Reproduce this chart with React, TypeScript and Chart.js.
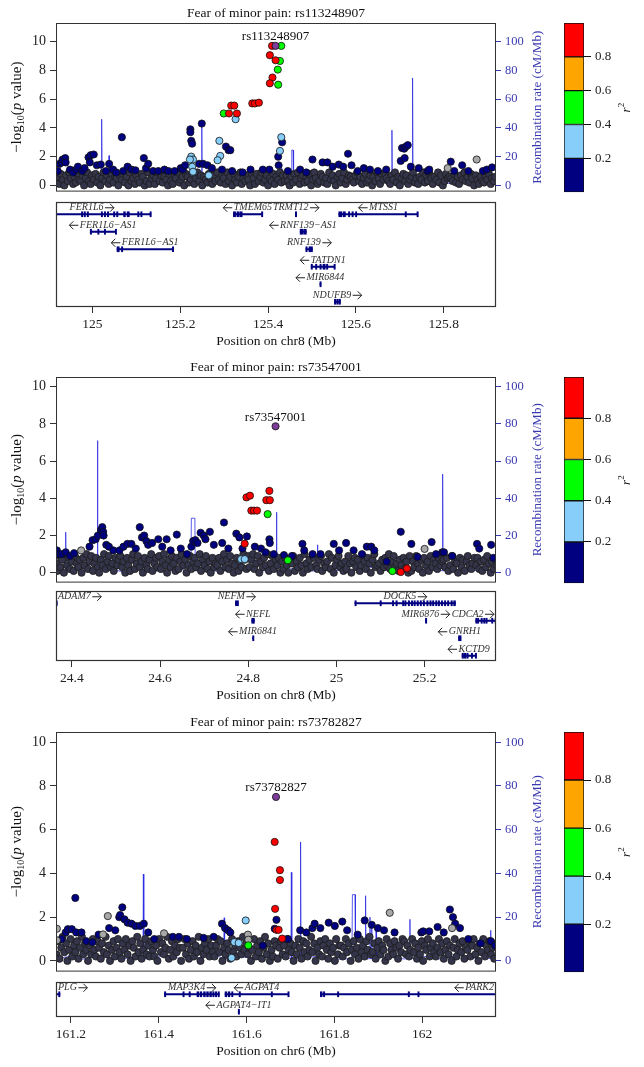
import { useEffect, useRef } from 'react';
import Chart from 'chart.js/auto';

const SERIF = '"Liberation Serif", "Times New Roman", serif';
const NAVY = '#000080';
const SKY = '#87cefa';
const GREEN = '#00ff00';
const ORANGE = '#ffa500';
const RED = '#ff0000';
const PURPLE = '#7d3c98';
const GREY = '#a8a8a8';
const BAND = '#34344a';
const REC = 'rgba(40,40,225,0.75)';
const BLUE_TXT = '#3a3ab0';

// shared axis ticks
const logpTicks = [0, 2, 4, 6, 8, 10];
const recTicks = [0, 20, 40, 60, 80, 100];
const r2Ticks = [0.2, 0.4, 0.6, 0.8];
const r2Breaks = [0, 0.2, 0.4, 0.6, 0.8, 1];
const r2Colors = [NAVY, SKY, GREEN, ORANGE, RED];

type Gene = { name: string; start: number; end: number; strand: number; row: number; exons: number[][] };

// ---------- panel 1: rs113248907, chr8 ----------
const xTicks1 = [125, 125.2, 125.4, 125.6, 125.8];
const lead1 = { snp: 'rs113248907', pos: 125.417, logp: 9.7 };
const ldPos1 = [125.409, 125.43, 125.404, 125.417, 125.427, 125.422, 125.41, 125.404, 125.423, 125.364, 125.37, 125.379, 125.316, 125.323, 125.299, 125.311, 125.329, 125.326, 125.289, 125.43, 125.427, 125.291, 125.285, 125.265, 125.225, 125.229, 125.227, 125.229, 125.222];
const ldP1 = [9.7, 9.7, 9.05, 8.7, 8.65, 8.05, 7.5, 7.1, 7.0, 5.7, 5.7, 5.75, 5.55, 5.55, 5.0, 5.0, 5.0, 4.6, 3.1, 3.35, 2.4, 2.05, 1.75, 0.7, 2.0, 1.8, 1.3, 0.95, 1.8];
const ldR21 = [0.9, 0.5, 0.9, 0.9, 0.5, 0.5, 0.9, 0.9, 0.5, 0.9, 0.9, 0.9, 0.9, 0.9, 0.5, 0.9, 0.9, 0.3, 0.3, 0.3, 0.3, 0.3, 0.3, 0.3, 0.3, 0.3, 0.3, 0.3, 0.3];
const greyKb1 = [958, 892];
const greyP1 = [1.8, 1.2];
const hiKb1 = [4, 8, 13, 15, 21, 22, 32, 39, 46, 50, 60, 65, 74, 77, 79, 86, 93, 102, 114, 121, 130, 137, 150, 153, 163, 172, 181, 200, 205, 210, 221, 233, 247, 256, 270, 284, 289, 294, 306, 306, 308, 310, 326, 332, 335, 345, 355, 378, 387, 393, 397, 401, 425, 443, 471, 486, 506, 507, 515, 528, 556, 570, 584, 607, 618, 630, 644, 654, 665, 673, 687, 701, 715, 733, 752, 785, 788, 793, 794, 797, 801, 808, 826, 846, 850, 899, 907, 925, 939, 972, 981, 993];
const hiP1 = [1.0, 1.5, 1.6, 1.8, 1.9, 1.6, 1.1, 0.9, 1.1, 1.3, 1.0, 1.2, 1.95, 1.6, 2.1, 2.15, 1.4, 1.45, 1.0, 1.5, 1.1, 0.9, 3.35, 1.0, 1.3, 1.1, 1.05, 1.9, 1.2, 1.5, 1.0, 1.0, 1.1, 1.0, 1.0, 1.2, 1.1, 1.4, 3.9, 3.7, 3.1, 2.9, 1.5, 4.3, 1.5, 1.4, 1.2, 1.1, 2.7, 2.45, 2.45, 1.0, 0.9, 1.1, 1.1, 1.1, 2.0, 1.4, 3.0, 1.0, 1.1, 0.9, 1.8, 1.6, 1.6, 1.3, 1.45, 1.3, 2.2, 1.4, 1.0, 1.2, 1.1, 1.0, 1.1, 1.7, 2.6, 2.55, 1.9, 2.7, 2.8, 1.3, 1.2, 1.0, 1.1, 1.65, 1.0, 1.4, 1.0, 1.0, 1.1, 1.25];
const bandKb1 = [
  1, 4, 8, 11, 16, 19, 23, 27, 30, 34, 39, 42, 45, 50, 53, 57, 60, 64, 68, 71,
  75, 79, 82, 86, 90, 94, 97, 101, 105, 108, 112, 116, 120, 123, 127, 131, 135, 138, 142, 146,
  150, 153, 157, 161, 165, 168, 172, 176, 180, 183, 187, 191, 195, 198, 202, 206, 210, 213, 217, 221,
  225, 228, 232, 236, 240, 243, 247, 251, 255, 258, 262, 266, 270, 273, 277, 281, 285, 288, 292, 296,
  300, 303, 307, 311, 315, 318, 322, 326, 330, 333, 337, 341, 345, 348, 352, 356, 360, 363, 367, 371,
  375, 378, 382, 386, 390, 393, 397, 401, 405, 408, 412, 416, 420, 423, 427, 431, 435, 438, 442, 446,
  450, 453, 457, 461, 465, 468, 472, 476, 480, 483, 487, 491, 495, 498, 502, 506, 510, 513, 517, 521,
  525, 528, 532, 536, 540, 543, 547, 551, 555, 558, 562, 566, 570, 573, 577, 581, 585, 588, 592, 596,
  600, 603, 607, 611, 615, 618, 622, 626, 630, 633, 637, 641, 645, 648, 652, 656, 660, 663, 667, 671,
  675, 678, 682, 686, 690, 693, 697, 701, 705, 708, 712, 716, 720, 723, 727, 731, 735, 738, 742, 746,
  750, 753, 757, 761, 765, 768, 772, 776, 780, 783, 787, 791, 795, 798, 802, 806, 810, 813, 817, 821,
  825, 828, 832, 836, 840, 843, 847, 851, 855, 858, 862, 866, 870, 873, 877, 881, 885, 888, 892, 896,
  900, 903, 907, 911, 915, 918, 922, 926, 930, 933, 937, 941, 945, 948, 952, 956, 960, 963, 967, 971,
  975, 978, 982, 986, 990, 993, 997, 1000,
];
const bandP1 = [
  .2, .6, .1, .8, .4, 0, .7, .3, .9, .5, .1, .6, .2, .8, .4, .3, .7, 0, .5, .9,
  .3, .1, .7, .4, .8, .2, .6, 0, .5, .9, .3, .7, .1, .4, .8, .2, .6, .5, 0, .7,
  .4, .8, .2, .6, 0, .9, .3, .5, .1, .7, .4, .2, .8, .6, 0, .3, .9, .1, .5, .7,
  .1, .5, .9, .3, .7, .2, .6, .4, 0, .8, .3, .1, .7, .5, .9, .2, .4, .6, 0, .8,
  .6, .2, .4, .8, .1, .5, .9, .3, .7, 0, .6, .4, .2, .8, .5, .1, .7, .3, .9, .4,
  .2, .7, .5, .1, .9, .3, .6, 0, .8, .4, .2, .6, .9, .1, .5, .3, .7, .4, 0, .8,
  .5, .1, .8, .3, .6, .9, .2, .4, .7, 0, .5, .3, .8, .1, .6, .4, .9, .2, .7, .3,
  .7, .3, 0, .6, .2, .8, .4, .9, .1, .5, .7, .2, .6, .3, .8, 0, .4, .9, .5, .1,
  .3, .8, .6, .2, .5, .1, .9, .4, .7, .3, 0, .6, .8, .2, .5, .9, .1, .4, .7, .6,
  .4, .2, .7, .9, .3, .6, .1, .5, .8, .2, .4, .7, 0, .6, .3, .9, .5, .1, .8, .4,
  .8, .5, .3, .1, .7, .4, .9, .2, .6, 0, .5, .8, .3, .7, .1, .4, .6, .9, .2, .5,
  .1, .6, .4, .9, .2, .7, .3, .8, .5, .1, .6, .4, .9, .2, .7, 0, .3, .8, .5, .6,
  .5, .3, .8, .2, .6, .1, .7, .4, .9, .3, .6, .2, .8, .5, 0, .7, .4, .1, .6, .3,
  .2, .7, .4, .8, .1, .5, .3, .6,
];
const recKb1 = [0, 3, 4.5, 6, 25, 45, 70, 95, 103, 104, 105, 118, 120.5, 121, 121.5, 124, 150, 180, 210, 240, 270, 300, 325, 331, 332, 333, 350, 380, 410, 440, 470, 500, 513, 514, 515, 536, 537, 540, 541, 560, 590, 620, 650, 680, 710, 740, 764, 765, 766, 790, 811, 812, 813, 840, 870, 900, 930, 960, 990, 1002];
const recRate1 = [1.5, 2, 10, 1, 3, 0.5, 2.5, 1, 1.5, 46, 1.5, 2, 1, 20.7, 1, 2, 0.8, 3, 1.2, 0.6, 2.2, 1, 3.5, 1, 43, 1.2, 0.5, 2, 1, 3, 0.8, 1.5, 1, 12, 1, 1, 24.6, 24.6, 1, 2, 0.7, 2.5, 1, 1.8, 0.6, 2.4, 1, 38.4, 1, 1.5, 1, 74.7, 1, 2.2, 0.8, 1.6, 3, 1, 2, 1];
const genes1: Gene[] = [
  { name: 'FER1L6', start: 124.864, end: 125.133, strand: 1, row: 0, exons: [[124.975, 124.977], [124.981, 124.984], [124.988, 124.991], [125.02, 125.023], [125.027, 125.03], [125.034, 125.036], [125.048, 125.05], [125.055, 125.058], [125.071, 125.075], [125.079, 125.084], [125.103, 125.105], [125.11, 125.113], [125.131, 125.133]] },
  { name: 'TMEM65', start: 125.321, end: 125.386, strand: -1, row: 0, exons: [[125.321, 125.326], [125.329, 125.334], [125.336, 125.341], [125.385, 125.386]] },
  { name: 'TRMT12', start: 125.462, end: 125.465, strand: 1, row: 0, exons: [[125.462, 125.465]] },
  { name: 'MTSS1', start: 125.561, end: 125.741, strand: -1, row: 0, exons: [[125.561, 125.568], [125.571, 125.576], [125.583, 125.586], [125.591, 125.594], [125.599, 125.601], [125.712, 125.714], [125.739, 125.741]] },
  { name: 'FER1L6−AS1', start: 124.995, end: 125.053, strand: -1, row: 1, exons: [[124.995, 124.996], [125.012, 125.013], [125.027, 125.029], [125.052, 125.053]] },
  { name: 'RNF139−AS1', start: 125.473, end: 125.487, strand: -1, row: 1, exons: [[125.473, 125.479], [125.481, 125.487]] },
  { name: 'FER1L6−AS1', start: 125.056, end: 125.183, strand: -1, row: 2, exons: [[125.056, 125.061], [125.066, 125.069], [125.182, 125.183]] },
  { name: 'RNF139', start: 125.486, end: 125.501, strand: 1, row: 2, exons: [[125.486, 125.489], [125.493, 125.501]] },
  { name: 'TATDN1', start: 125.498, end: 125.552, strand: -1, row: 3, exons: [[125.498, 125.501], [125.508, 125.511], [125.518, 125.521], [125.525, 125.53], [125.533, 125.536], [125.55, 125.552]] },
  { name: 'MIR6844', start: 125.518, end: 125.519, strand: -1, row: 4, exons: [[125.518, 125.519]] },
  { name: 'NDUFB9', start: 125.551, end: 125.564, strand: 1, row: 5, exons: [[125.551, 125.555], [125.557, 125.56], [125.562, 125.564]] },
];

// ---------- panel 2: rs73547001, chr8 ----------
const xTicks2 = [24.4, 24.6, 24.8, 25, 25.2];
const lead2 = { snp: 'rs73547001', pos: 24.862, logp: 7.87 };
const ldPos2 = [24.796, 24.804, 24.848, 24.841, 24.849, 24.807, 24.813, 24.82, 24.844, 24.792, 24.784, 24.792, 24.89, 25.127, 25.146, 25.16];
const ldP2 = [4.05, 4.14, 4.4, 3.9, 3.9, 3.34, 3.34, 3.34, 3.15, 1.56, 0.73, 0.73, 0.67, 0.09, 0.04, 0.23];
const ldR22 = [0.9, 0.9, 0.9, 0.9, 0.9, 0.9, 0.9, 0.9, 0.5, 0.9, 0.3, 0.3, 0.5, 0.5, 0.9, 0.9];
const greyKb2 = [57, 836];
const greyP2 = [1.2, 1.28];
const hiKb2 = [2, 5, 13, 22, 32, 41, 76, 83, 90, 95, 102, 105, 107, 108, 114, 120, 130, 144, 153, 162, 171, 181, 190, 195, 200, 205, 209, 218, 232, 241, 251, 260, 274, 283, 297, 307, 311, 316, 321, 328, 335, 339, 349, 358, 377, 381, 391, 409, 416, 423, 433, 451, 465, 475, 484, 485, 494, 517, 535, 559, 563, 582, 600, 630, 642, 658, 675, 694, 705, 715, 722, 750, 782, 806, 820, 852, 862, 876, 880, 899, 955, 960, 987, 992];
const hiP2 = [1.2, 1.0, 1.0, 1.1, 0.9, 1.05, 1.4, 1.75, 1.8, 2.0, 2.3, 2.45, 2.2, 2.0, 1.5, 1.4, 1.2, 1.2, 1.4, 1.55, 1.55, 1.3, 2.45, 1.9, 2.0, 1.7, 1.5, 1.6, 1.8, 1.4, 1.8, 1.2, 2.05, 1.3, 1.0, 1.4, 1.7, 1.75, 1.6, 2.15, 2.0, 1.8, 2.2, 1.5, 1.6, 2.7, 1.3, 2.1, 1.9, 1.3, 1.95, 1.4, 1.3, 1.1, 1.8, 1.6, 1.0, 0.95, 0.9, 1.55, 1.2, 1.0, 1.0, 1.55, 1.2, 1.6, 1.2, 1.0, 1.4, 1.4, 1.2, 0.6, 2.2, 1.55, 0.85, 1.65, 1.0, 1.1, 1.1, 0.9, 1.55, 1.3, 1.5, 0.8];
const bandKb2 = [
  0, 3, 7, 10, 14, 18, 21, 25, 29, 32, 36, 40, 43, 47, 51, 54, 58, 62, 65, 69,
  73, 76, 80, 84, 87, 91, 95, 98, 102, 106, 109, 113, 117, 120, 124, 128, 131, 135, 139, 142,
  146, 150, 153, 157, 161, 164, 168, 172, 175, 179, 183, 186, 190, 194, 197, 201, 205, 208, 212, 216,
  219, 223, 227, 230, 234, 238, 241, 245, 249, 252, 256, 260, 263, 267, 271, 274, 278, 282, 285, 289,
  293, 296, 300, 304, 307, 311, 315, 318, 322, 326, 329, 333, 337, 340, 344, 348, 351, 355, 359, 362,
  366, 370, 373, 377, 381, 384, 388, 392, 395, 399, 403, 406, 410, 414, 417, 421, 425, 428, 432, 436,
  439, 443, 447, 450, 454, 458, 461, 465, 469, 472, 476, 480, 483, 487, 491, 494, 498, 502, 505, 509,
  513, 516, 520, 524, 527, 531, 535, 538, 542, 546, 549, 553, 557, 560, 564, 568, 571, 575, 579, 582,
  586, 590, 593, 597, 601, 604, 608, 612, 615, 619, 623, 626, 630, 634, 637, 641, 645, 648, 652, 656,
  659, 663, 667, 670, 674, 678, 681, 685, 689, 692, 696, 700, 703, 707, 711, 714, 718, 722, 725, 729,
  733, 736, 740, 744, 747, 751, 755, 758, 762, 766, 769, 773, 777, 780, 784, 788, 791, 795, 799, 802,
  806, 810, 813, 817, 821, 824, 828, 832, 835, 839, 843, 846, 850, 854, 857, 861, 865, 868, 872, 876,
  879, 883, 887, 890, 894, 898, 901, 905, 909, 912, 916, 920, 923, 927, 931, 934, 938, 942, 945, 949,
  953, 956, 960, 964, 967, 971, 975, 978, 982, 986, 989, 993, 997, 1000,
];
const bandP2 = [
  .5, .1, .9, .3, .7, 0, 1, .4, .8, .2, .6, .1, .9, .5, .3, .7, 0, .8, .4, 1,
  .2, .6, .9, .1, .5, .8, .3, 0, .7, .4, 1, .2, .6, .9, .3, .5, .1, .8, .4, .7,
  .9, .3, .6, 0, .8, .4, .1, .7, 1, .2, .5, .9, .3, .6, 0, .8, .4, .2, .7, 1,
  .1, .5, .8, .3, .9, .2, .6, 1, .4, 0, .7, .3, .9, .5, .1, .8, .2, .6, 1, .4,
  .7, 0, .4, .9, .2, .6, .8, .3, .5, 1, .1, .7, .4, .9, .2, .6, 0, .8, .3, .5,
  .4, .8, .1, .6, 1, .3, .7, .2, .9, .5, 0, .4, .8, .1, .6, .3, 1, .7, .2, .9,
  .3, .7, 1, .2, .5, .9, 0, .6, .3, .8, .4, 1, .1, .5, .9, .2, .7, .4, .8, 0,
  .6, .2, .8, .4, 0, .7, .5, .9, .1, .6, .3, .8, .4, 0, 1, .5, .2, .7, .3, .9,
  .8, .4, .2, .7, .9, .1, .5, .3, .6, 1, .2, .8, 0, .4, .7, .9, .3, .5, .1, .6,
  .2, .9, .5, 0, .6, .8, .3, .7, .1, .4, .9, .6, .2, .8, .5, 0, .7, 1, .3, .4,
  .5, .1, .7, .3, .8, .4, 1, .2, .6, .9, .3, .5, .1, .7, .4, .8, .2, .6, 0, .9,
  .1, .6, .3, .9, .5, .2, .7, 0, .8, .4, .6, .1, .9, .3, .7, .5, .2, .8, .4, .6,
  .7, .3, .8, .1, .4, .9, .2, .6, .5, 0, .8, .3, .7, .1, .6, .9, .4, .2, .5, .8,
  .4, .8, .2, .6, .1, .7, .3, .9, .5, 0, .6, .2, .7, .4,
];
const recKb2 = [0, 10, 21, 22, 23, 50, 80, 93, 94, 95, 120, 150, 180, 210, 240, 270, 300, 306, 307, 315, 316, 340, 370, 400, 430, 460, 490, 499, 500, 501, 530, 560, 592, 593, 594, 620, 650, 680, 710, 740, 770, 800, 830, 860, 876, 877, 878, 900, 930, 960, 998];
const recRate2 = [1, 2.5, 1, 21.8, 1, 3, 0.8, 1, 71, 1.5, 2, 0.6, 3, 1.2, 0.8, 2.4, 1, 1, 29.3, 29.3, 1, 2, 0.5, 1.8, 3, 0.7, 1.5, 1, 32.5, 1, 2.2, 0.8, 1, 15, 1, 2.5, 0.6, 1.8, 3.2, 1, 2, 0.7, 1.6, 2.8, 1, 53, 1, 2, 0.8, 1.5, 1];
const genes2: Gene[] = [
  { name: 'ADAM7', start: 24.298, end: 24.366, strand: 1, row: 0, exons: [[24.3635, 24.366]] },
  { name: 'NEFM', start: 24.771, end: 24.776, strand: 1, row: 0, exons: [[24.771, 24.774], [24.775, 24.776]] },
  { name: 'DOCK5', start: 25.042, end: 25.27, strand: 1, row: 0, exons: [[25.042, 25.043], [25.099, 25.1], [25.127, 25.129], [25.135, 25.137], [25.15, 25.152], [25.155, 25.158], [25.163, 25.165], [25.17, 25.172], [25.176, 25.178], [25.183, 25.185], [25.19, 25.192], [25.197, 25.199], [25.205, 25.207], [25.212, 25.214], [25.218, 25.221], [25.225, 25.228], [25.231, 25.234], [25.238, 25.24], [25.245, 25.248], [25.252, 25.255], [25.26, 25.263], [25.266, 25.27]] },
  { name: 'NEFL', start: 24.808, end: 24.814, strand: -1, row: 1, exons: [[24.808, 24.81], [24.811, 24.813]] },
  { name: 'MIR6876', start: 25.202, end: 25.2025, strand: 1, row: 1, exons: [[25.202, 25.2025]] },
  { name: 'CDCA2', start: 25.316, end: 25.365, strand: 1, row: 1, exons: [[25.316, 25.318], [25.32, 25.322], [25.328, 25.33], [25.334, 25.336], [25.339, 25.342], [25.352, 25.354], [25.36, 25.362]] },
  { name: 'MIR6841', start: 24.81, end: 24.8105, strand: -1, row: 2, exons: [[24.81, 24.8105]] },
  { name: 'GNRH1', start: 25.277, end: 25.282, strand: -1, row: 2, exons: [[25.277, 25.279], [25.28, 25.282]] },
  { name: 'KCTD9', start: 25.285, end: 25.316, strand: -1, row: 3, exons: [[25.285, 25.288], [25.289, 25.294], [25.296, 25.298], [25.306, 25.308], [25.315, 25.316]] },
];

// ---------- panel 3: rs73782827, chr6 ----------
const xTicks3 = [161.2, 161.4, 161.6, 161.8, 162];
const lead3 = { snp: 'rs73782827', pos: 161.667, logp: 7.5 };
const ldPos3 = [161.664, 161.676, 161.676, 161.665, 161.668, 161.673, 161.681, 161.598, 161.572, 161.582, 161.566, 161.604];
const ldP3 = [5.44, 4.15, 3.7, 2.38, 1.42, 1.42, 1.02, 1.85, 0.86, 0.82, 0.14, 0.71];
const ldR23 = [0.9, 0.9, 0.9, 0.9, 0.9, 0.9, 0.9, 0.3, 0.3, 0.3, 0.3, 0.5];
const greyKb3 = [2, 2, 118, 107, 246, 760, 902, 437, 438];
const greyP3 = [1.47, 0.94, 2.05, 1.21, 1.26, 2.2, 1.5, 1.2, 0.97];
const hiKb3 = [13, 22, 27, 36, 44, 46, 58, 69, 83, 97, 121, 135, 144, 146, 151, 156, 163, 172, 181, 191, 200, 210, 224, 266, 280, 298, 336, 359, 378, 385, 392, 397, 471, 498, 502, 528, 556, 570, 584, 589, 602, 621, 635, 652, 663, 687, 703, 719, 733, 747, 771, 832, 836, 850, 869, 883, 897, 904, 909, 920, 939, 967, 990, 1000];
const hiP3 = [1.0, 1.3, 1.45, 1.45, 2.88, 1.3, 1.3, 0.9, 0.85, 1.2, 1.5, 1.4, 2.0, 2.1, 2.45, 1.9, 1.75, 1.7, 1.6, 1.6, 1.7, 1.3, 1.0, 1.1, 1.1, 1.0, 1.05, 1.1, 1.7, 1.5, 1.4, 1.3, 0.7, 1.47, 1.88, 1.0, 1.4, 1.3, 1.5, 1.7, 1.5, 1.75, 1.6, 1.8, 1.4, 1.2, 1.85, 1.65, 1.5, 1.4, 1.3, 1.3, 1.35, 1.35, 1.55, 1.3, 2.35, 2.0, 1.7, 1.5, 1.0, 0.8, 0.9, 0.7];
const bandKb3 = [
  1, 5, 8, 12, 15, 19, 23, 26, 30, 33, 37, 41, 44, 48, 51, 55, 59, 62, 66, 69,
  73, 77, 80, 84, 87, 91, 95, 98, 102, 105, 109, 113, 116, 120, 123, 127, 131, 134, 138, 141,
  145, 149, 152, 156, 159, 163, 167, 170, 174, 177, 181, 185, 188, 192, 195, 199, 203, 206, 210, 213,
  217, 221, 224, 228, 231, 235, 239, 242, 246, 249, 253, 257, 260, 264, 267, 271, 275, 278, 282, 285,
  289, 293, 296, 300, 303, 307, 311, 314, 318, 321, 325, 329, 332, 336, 339, 343, 347, 350, 354, 357,
  361, 365, 368, 372, 375, 379, 383, 386, 390, 393, 397, 401, 404, 408, 411, 415, 419, 422, 426, 429,
  433, 437, 440, 444, 447, 451, 455, 458, 462, 465, 469, 473, 476, 480, 483, 487, 491, 494, 498, 501,
  505, 509, 512, 516, 519, 523, 527, 530, 534, 537, 541, 545, 548, 552, 555, 559, 563, 566, 570, 573,
  577, 581, 584, 588, 591, 595, 599, 602, 606, 609, 613, 617, 620, 624, 627, 631, 635, 638, 642, 645,
  649, 653, 656, 660, 663, 667, 671, 674, 678, 681, 685, 689, 692, 696, 699, 703, 707, 710, 714, 717,
  721, 725, 728, 732, 735, 739, 743, 746, 750, 753, 757, 761, 764, 768, 771, 775, 779, 782, 786, 789,
  793, 797, 800, 804, 807, 811, 815, 818, 822, 825, 829, 833, 836, 840, 843, 847, 851, 854, 858, 861,
  865, 869, 872, 876, 879, 883, 887, 890, 894, 897, 901, 905, 908, 912, 915, 919, 923, 926, 930, 933,
  937, 941, 944, 948, 951, 955, 959, 962, 966, 969, 973, 977, 980, 984, 987, 991, 995, 998, 1001,
];
const bandP3 = [
  .3, .9, .1, .6, 1.1, .4, .8, 0, .5, 1, .2, .7, .4, .9, .1, .6, 1.1, .3, .8, .5,
  0, .7, .3, 1, .5, .2, .9, .6, .1, .8, .4, 1.1, .3, .7, 0, .5, .9, .2, .6, 1,
  .4, .1, .8, .5, 1, .3, .7, 0, .9, .6, .2, 1.1, .4, .8, .1, .5, 1, .3, .7, .2,
  .9, .5, .2, .7, 0, 1, .4, .8, .3, .6, 1.1, .1, .5, .9, .2, .7, .4, 1, .6, 0,
  .6, 1, .3, .8, .1, .5, .9, .2, .7, .4, 1.1, 0, .6, .3, .8, .5, 1, .2, .7, .4,
  .2, .7, 1, .4, .9, 0, .6, .3, .8, .5, .1, 1, .4, .7, .2, .9, .6, .3, 1.1, .5,
  .8, .3, .6, 0, .5, 1, .2, .7, .4, .9, .1, .6, 1.1, .3, .8, 0, .5, .2, .9, .7,
  .1, .6, .9, .3, .7, .2, 1, .5, .8, .4, 0, .7, .3, 1, .6, .1, .9, .4, .8, .2,
  .5, 1.1, .4, .8, 0, .6, .3, .9, .2, .7, 1, .5, .1, .8, .4, .6, 0, 1, .3, .7,
  .7, .2, .6, 1, .4, .8, 0, .5, .9, .3, .6, .1, 1, .4, .7, .2, .9, .5, 1.1, .3,
  .4, .8, .1, .6, .9, .3, .7, .5, 0, 1, .2, .8, .5, .3, .9, .6, .1, .7, .4, 1,
  .9, .3, .7, .2, .5, 1, .4, .8, .1, .6, .3, .9, 0, .7, .5, 1, .2, .6, .8, .4,
  .2, .6, 1, .4, .8, .1, .5, .9, .3, .7, 0, .6, 1, .2, .5, .8, .4, .9, .1, .6,
  .5, .9, .2, .7, 1, .3, .6, 0, .8, .4, 1, .2, .7, .5, .9, .3, .6, .1, .8,
];
const recKb3 = [0, 30, 60, 90, 120, 150, 180, 198, 199, 200, 213, 214, 215, 250, 290, 330, 360, 382, 383, 384, 420, 460, 500, 535, 536, 537, 556, 557, 558, 600, 640, 674, 675, 681, 682, 704, 705, 706, 714, 715, 716, 718, 719, 720, 728, 729, 730, 760, 790, 805, 806, 807, 840, 880, 920, 957, 958, 959, 975, 989, 990, 991, 1002];
const recRate3 = [1, 2, 0.7, 2.5, 1.2, 0.6, 2.2, 1, 39.7, 1, 1, 10, 1, 2.5, 0.8, 1.6, 3, 1, 19.7, 1, 2, 0.6, 2.8, 1, 40.5, 1, 1, 54.4, 1, 2.3, 0.8, 1, 30.3, 30.3, 1, 1, 29.8, 1, 1, 20, 1, 1, 17.7, 1, 1, 15, 1, 2.4, 0.9, 1, 19, 1, 2, 0.7, 3, 1, 10, 1, 1.5, 1, 14, 1, 1];
const genes3: Gene[] = [
  { name: 'PLG', start: 161.123, end: 161.175, strand: 1, row: 0, exons: [[161.172, 161.175]] },
  { name: 'MAP3K4', start: 161.413, end: 161.538, strand: 1, row: 0, exons: [[161.413, 161.414], [161.455, 161.456], [161.469, 161.471], [161.487, 161.491], [161.494, 161.498], [161.502, 161.506], [161.509, 161.513], [161.516, 161.52], [161.523, 161.526], [161.529, 161.531], [161.535, 161.538]] },
  { name: 'AGPAT4', start: 161.551, end: 161.695, strand: -1, row: 0, exons: [[161.551, 161.555], [161.558, 161.562], [161.566, 161.568], [161.583, 161.584], [161.656, 161.657], [161.694, 161.695]] },
  { name: 'PARK2', start: 161.768, end: 163.148, strand: -1, row: 0, exons: [[161.768, 161.772], [161.775, 161.778], [161.807, 161.808], [161.968, 161.97], [161.99, 161.992]] },
  { name: 'AGPAT4−IT1', start: 161.581, end: 161.583, strand: -1, row: 1, exons: [[161.581, 161.583]] },
];

interface Panel {
  title: string; chrom: string;
  lead: { snp: string; pos: number; logp: number };
  xMin: number; xMax: number; yMin: number; yMax: number; xTicks: number[];
  ldPos: number[]; ldP: number[]; ldR2: number[];
  greyKb: number[]; greyP: number[]; hiKb: number[]; hiP: number[];
  bandKb: number[]; bandP: number[]; recKb: number[]; recRate: number[];
  genes: Gene[]; geneRows: number;
  top: number; height: number; padTop: number; padBottom: number; geneTop: number; geneBox: number;
}

const panels: Panel[] = [
  { title: 'Fear of minor pain: rs113248907', chrom: 'chr8', lead: lead1, xMin: 124.917, xMax: 125.919, yMin: -0.43, yMax: 11.29, xTicks: xTicks1,
    ldPos: ldPos1, ldP: ldP1, ldR2: ldR21, greyKb: greyKb1, greyP: greyP1, hiKb: hiKb1, hiP: hiP1, bandKb: bandKb1, bandP: bandP1,
    recKb: recKb1, recRate: recRate1, genes: genes1, geneRows: 6, top: 0, height: 204, padTop: 23, padBottom: 11, geneTop: 196, geneBox: 105 },
  { title: 'Fear of minor pain: rs73547001', chrom: 'chr8', lead: lead2, xMin: 24.364, xMax: 25.362, yMin: -0.53, yMax: 10.52, xTicks: xTicks2,
    ldPos: ldPos2, ldP: ldP2, ldR2: ldR22, greyKb: greyKb2, greyP: greyP2, hiKb: hiKb2, hiP: hiP2, bandKb: bandKb2, bandP: bandP2,
    recKb: recKb2, recRate: recRate2, genes: genes2, geneRows: 4, top: 356, height: 239, padTop: 21, padBottom: 11, geneTop: 585, geneBox: 70 },
  { title: 'Fear of minor pain: rs73782827', chrom: 'chr6', lead: lead3, xMin: 161.166, xMax: 162.168, yMin: -0.49, yMax: 10.47, xTicks: xTicks3,
    ldPos: ldPos3, ldP: ldP3, ldR2: ldR23, greyKb: greyKb3, greyP: greyP3, hiKb: hiKb3, hiP: hiP3, bandKb: bandKb3, bandP: bandP3,
    recKb: recKb3, recRate: recRate3, genes: genes3, geneRows: 2, top: 710, height: 274, padTop: 22, padBottom: 11, geneTop: 976, geneBox: 35 },
];

function ldColor(r2: number) {
  if (r2 >= 0.8) return RED;
  if (r2 >= 0.6) return ORANGE;
  if (r2 >= 0.4) return GREEN;
  if (r2 >= 0.2) return SKY;
  return NAVY;
}

function fixedTicks(list: number[]) {
  return (s: any) => { s.ticks = list.map(v => ({ value: v })); };
}

function drawPieces(ctx: CanvasRenderingContext2D, pieces: { t: string; font: string; dy: number }[]) {
  let total = 0;
  for (const p of pieces) { ctx.font = p.font; total += ctx.measureText(p.t).width; }
  let x = -total / 2;
  ctx.textAlign = 'left';
  ctx.textBaseline = 'middle';
  for (const p of pieces) {
    ctx.font = p.font;
    ctx.fillText(p.t, x, p.dy);
    x += ctx.measureText(p.t).width;
  }
}

function scatterConfig(p: Panel) {
  const toPts = (kb: number[], v: number[]) => kb.map((k, i) => ({ x: p.xMin + k / 1000, y: v[i] }));
  const ld = p.ldPos.map((x, i) => ({ x, y: p.ldP[i], r2: p.ldR2[i] })).sort((a, b) => a.r2 - b.r2);
  const pt = { pointRadius: 3.6, pointBorderWidth: 0.8, pointBorderColor: '#111', showLine: false };
  const decor = {
    id: 'decor',
    afterDraw(chart: any) {
      const { ctx, chartArea: a, scales } = chart;
      ctx.save();
      ctx.strokeStyle = '#333';
      ctx.lineWidth = 1;
      ctx.strokeRect(a.left + 0.5, a.top + 0.5, a.right - a.left - 1, a.bottom - a.top - 1);
      ctx.fillStyle = '#111';
      ctx.textAlign = 'center';
      ctx.textBaseline = 'middle';
      ctx.font = `13.5px ${SERIF}`;
      ctx.fillText(p.title, (a.left + a.right) / 2, a.top - 9.5);
      ctx.font = `13px ${SERIF}`;
      ctx.textBaseline = 'alphabetic';
      ctx.fillText(p.lead.snp, scales.x.getPixelForValue(p.lead.pos), scales.y.getPixelForValue(p.lead.logp) - 5.5);
      const cy = (a.top + a.bottom) / 2;
      ctx.save();
      ctx.translate(17, cy);
      ctx.rotate(-Math.PI / 2);
      drawPieces(ctx, [
        { t: '−log', font: `15px ${SERIF}`, dy: 0 },
        { t: '10', font: `10px ${SERIF}`, dy: 4 },
        { t: '(', font: `15px ${SERIF}`, dy: 0 },
        { t: 'p', font: `italic 15px ${SERIF}`, dy: 0 },
        { t: ' value)', font: `15px ${SERIF}`, dy: 0 },
      ]);
      ctx.restore();
      ctx.save();
      ctx.fillStyle = BLUE_TXT;
      ctx.translate(538, cy);
      ctx.rotate(-Math.PI / 2);
      drawPieces(ctx, [{ t: 'Recombination rate (cM/Mb)', font: `13px ${SERIF}`, dy: 0 }]);
      ctx.restore();
      ctx.restore();
    },
  };
  return {
    type: 'scatter',
    data: {
      datasets: [
        { ...pt, label: 'lead', data: [{ x: p.lead.pos, y: p.lead.logp }], pointBackgroundColor: PURPLE, order: 0 },
        { ...pt, label: 'ld', data: ld, pointBackgroundColor: ld.map(d => ldColor(d.r2)), order: 1 },
        { ...pt, label: 'no r2', data: toPts(p.greyKb, p.greyP), pointBackgroundColor: GREY, order: 2 },
        { ...pt, label: 'r2 < 0.2', data: toPts(p.hiKb, p.hiP), pointBackgroundColor: NAVY, order: 3 },
        { ...pt, label: 'r2 < 0.2 (dense)', data: toPts(p.bandKb, p.bandP), pointBackgroundColor: BAND, pointBorderColor: '#1c1c1c', order: 4 },
        { type: 'line', label: 'recomb', data: toPts(p.recKb, p.recRate), yAxisID: 'y2', borderColor: REC, borderWidth: 1, pointRadius: 0, tension: 0, order: 5 },
      ],
    },
    options: {
      responsive: false,
      animation: false,
      events: [],
      layout: { padding: { top: p.padTop, bottom: p.padBottom, left: 0, right: 0 } },
      plugins: { legend: { display: false }, tooltip: { enabled: false } },
      scales: {
        x: { type: 'linear', min: p.xMin, max: p.xMax, display: false },
        y: {
          type: 'linear', position: 'left', min: p.yMin, max: p.yMax,
          afterBuildTicks: fixedTicks(logpTicks),
          afterFit: (s: any) => { s.width = 56; },
          ticks: { font: { family: SERIF, size: 14 }, color: '#222', padding: 4, autoSkip: false },
          grid: { drawOnChartArea: false, drawTicks: true, tickLength: 6, color: '#333' },
          border: { display: false },
        },
        y2: {
          type: 'linear', position: 'right', min: p.yMin * 10, max: p.yMax * 10,
          afterBuildTicks: fixedTicks(recTicks),
          afterFit: (s: any) => { s.width = 148; },
          ticks: { font: { family: SERIF, size: 12.5 }, color: BLUE_TXT, padding: 4, autoSkip: false },
          grid: { drawOnChartArea: false, drawTicks: true, tickLength: 5, color: BLUE_TXT },
          border: { display: false },
        },
      },
    },
    plugins: [decor],
  };
}

function geneConfig(p: Panel) {
  const decor = {
    id: 'genes',
    afterDatasetsDraw(chart: any) {
      const { ctx, chartArea: a, scales } = chart;
      ctx.save();
      ctx.strokeStyle = '#333';
      ctx.lineWidth = 1.2;
      ctx.strokeRect(a.left + 0.5, a.top + 0.5, a.right - a.left - 1, a.bottom - a.top - 1);
      ctx.font = `italic 10px ${SERIF}`;
      ctx.fillStyle = '#333';
      ctx.strokeStyle = '#222';
      ctx.lineWidth = 1;
      ctx.textBaseline = 'middle';
      ctx.textAlign = 'left';
      for (const g of p.genes) {
        const tw = ctx.measureText(g.name).width;
        const aw = 9, gap = 1.5;
        const total = tw + gap + aw;
        let cx = scales.x.getPixelForValue((g.start + g.end) / 2);
        cx = Math.min(Math.max(cx, a.left + total / 2 + 2), a.right - total / 2 - 2);
        const y = scales.y.getPixelForValue(g.row + 0.33);
        const x0 = cx - total / 2;
        let ax: number;
        if (g.strand > 0) {
          ctx.fillText(g.name, x0, y);
          ax = x0 + tw + gap;
        } else {
          ctx.fillText(g.name, x0 + aw + gap, y);
          ax = x0;
        }
        ctx.beginPath();
        ctx.moveTo(ax, y);
        ctx.lineTo(ax + aw, y);
        if (g.strand > 0) {
          ctx.moveTo(ax + aw - 4, y - 4);
          ctx.lineTo(ax + aw, y);
          ctx.lineTo(ax + aw - 4, y + 4);
        } else {
          ctx.moveTo(ax + 4, y - 4);
          ctx.lineTo(ax, y);
          ctx.lineTo(ax + 4, y + 4);
        }
        ctx.stroke();
      }
      ctx.restore();
    },
  };
  return {
    type: 'bar',
    data: {
      datasets: [
        { label: 'transcripts', data: p.genes.map(g => ({ x: [g.start, g.end], y: g.row + 0.7 })), backgroundColor: NAVY, barThickness: 1.4, grouped: false, minBarLength: 1 },
        { label: 'exons', data: p.genes.flatMap(g => g.exons.map(e => ({ x: e, y: g.row + 0.7 }))), backgroundColor: NAVY, barThickness: 5, grouped: false, minBarLength: 1.3 },
      ],
    },
    options: {
      indexAxis: 'y',
      responsive: false,
      animation: false,
      events: [],
      layout: { padding: { top: 6, bottom: 4, left: 56, right: 148 } },
      plugins: { legend: { display: false }, tooltip: { enabled: false } },
      scales: {
        y: { type: 'linear', min: 0, max: p.geneRows, reverse: true, offset: false, display: false },
        x: {
          type: 'linear', position: 'bottom', min: p.xMin, max: p.xMax,
          afterBuildTicks: fixedTicks(p.xTicks),
          afterFit: (s: any) => { s.height = 43; },
          ticks: { font: { family: SERIF, size: 13.5 }, color: '#222', padding: 3, autoSkip: false, maxRotation: 0, callback: (v: any) => String(Number(Number(v).toFixed(1))) },
          grid: { drawOnChartArea: false, drawTicks: true, tickLength: 6, color: '#333' },
          border: { display: false },
          title: { display: true, text: `Position on ${p.chrom} (Mb)`, font: { family: SERIF, size: 13.5 }, color: '#111', padding: { top: 2, bottom: 0 } },
        },
      },
    },
    plugins: [decor],
  };
}

function legendConfig(p: Panel) {
  const title = {
    id: 'r2title',
    afterDraw(chart: any) {
      const { ctx, chartArea: a } = chart;
      ctx.save();
      ctx.fillStyle = '#111';
      ctx.translate(87, (a.top + a.bottom) / 2);
      ctx.rotate(-Math.PI / 2);
      drawPieces(ctx, [
        { t: 'r', font: `italic 13px ${SERIF}`, dy: 0 },
        { t: '2', font: `9px ${SERIF}`, dy: -5 },
      ]);
      ctx.restore();
    },
  };
  return {
    type: 'bar',
    data: {
      labels: ['r2'],
      datasets: r2Colors.map((c, i) => ({
        label: `${r2Breaks[i]}-${r2Breaks[i + 1]}`,
        data: [[r2Breaks[i], r2Breaks[i + 1]]],
        backgroundColor: c, borderColor: '#111', borderWidth: 1, borderSkipped: false,
        barPercentage: 1, categoryPercentage: 1, grouped: false,
      })),
    },
    options: {
      responsive: false,
      animation: false,
      events: [],
      layout: { padding: { top: p.padTop, bottom: p.padBottom, left: 24, right: 0 } },
      plugins: { legend: { display: false }, tooltip: { enabled: false } },
      scales: {
        x: { display: false },
        y: {
          position: 'right', min: 0, max: 1,
          afterBuildTicks: fixedTicks(r2Ticks),
          afterFit: (s: any) => { s.width = 60; },
          ticks: { font: { family: SERIF, size: 13 }, color: '#222', padding: 4, autoSkip: false, callback: (v: any) => Number(v).toFixed(1) },
          grid: { drawOnChartArea: false, drawTicks: true, tickLength: 7, color: '#111' },
          border: { display: false },
        },
      },
    },
    plugins: [title],
  };
}

function ChartBox({ left, top, width, height, make }: { left: number; top: number; width: number; height: number; make: () => any }) {
  const ref = useRef<HTMLCanvasElement>(null);
  useEffect(() => {
    if (!ref.current) return;
    const chart = new Chart(ref.current, make());
    return () => chart.destroy();
  }, []);
  return <canvas ref={ref} width={width} height={height} style={{ position: 'absolute', left, top, width, height }} />;
}

export default function App() {
  useEffect(() => {
    document.body.style.margin = '0';
  }, []);
  return (
    <div style={{ position: 'relative', width: 644, height: 1067, background: '#fff' }}>
      {panels.map((p, i) => (
        <div key={i}>
          <ChartBox left={0} top={p.top} width={644} height={p.height} make={() => scatterConfig(p)} />
          <ChartBox left={540} top={p.top} width={104} height={p.height} make={() => legendConfig(p)} />
          <ChartBox left={0} top={p.geneTop} width={644} height={p.geneBox + 53} make={() => geneConfig(p)} />
        </div>
      ))}
    </div>
  );
}
